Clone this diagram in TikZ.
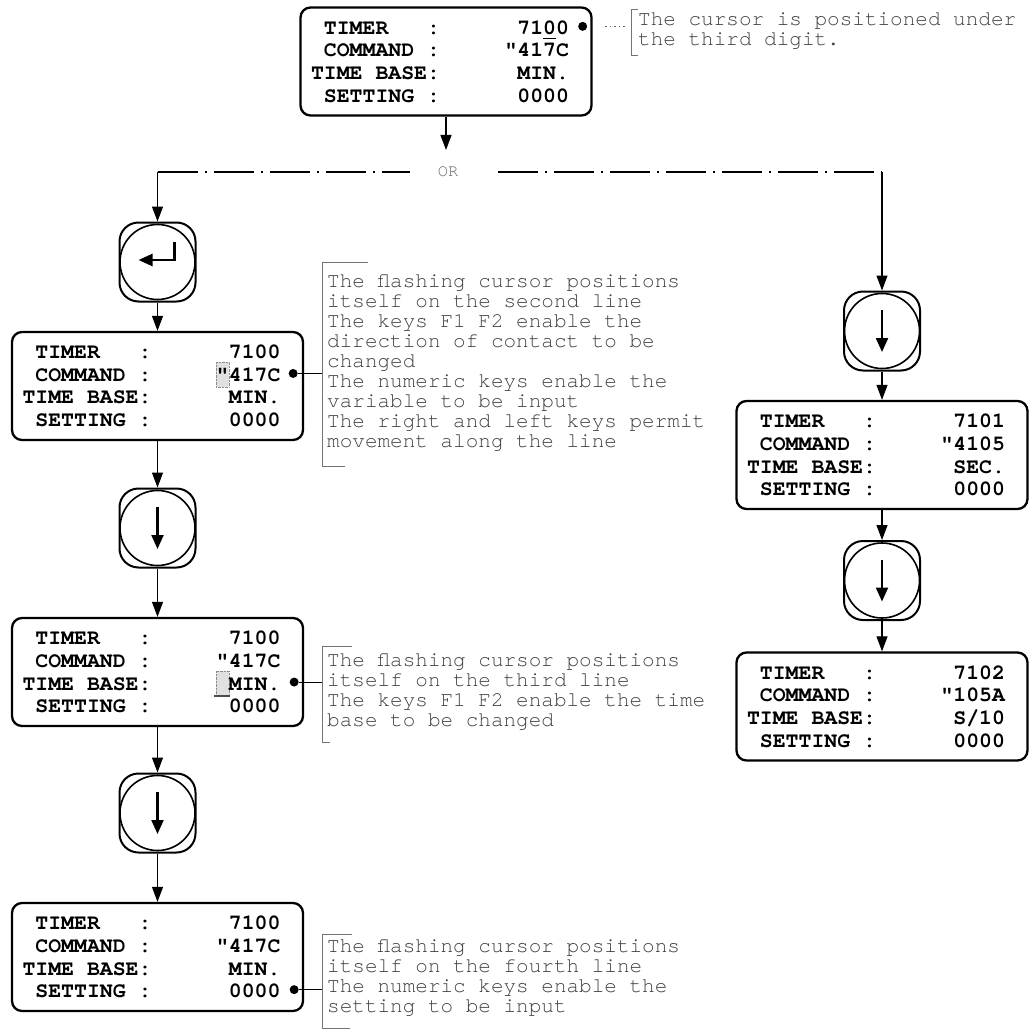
\documentclass[tikz,border=0pt]{standalone}
\usepackage{fontspec}
\setmonofont{texgyrecursor}[Extension=.otf, UprightFont=*-regular, BoldFont=*-bold, ItalicFont=*-italic, BoldItalicFont=*-bolditalic]
\usetikzlibrary{arrows.meta,calc}
\newcommand\ulz[1]{\makebox[0pt][l]{\rule[-5pt]{0.6em}{1.3pt}}#1}
\newcommand\lcdspaces{\def~{\hphantom{0}}}
\tikzset{
 lcd/.style={draw, line width=2.3pt, rounded corners=10pt, minimum width=291pt, minimum height=108pt, text width=270pt, inner xsep=10.5pt, inner ysep=0pt, align=left, font=\ttfamily\bfseries\fontsize{21.5}{22.6}\selectfont\lcdspaces},
 keybox/.style={draw, line width=2pt, rounded corners=19pt, minimum width=76pt, minimum height=79pt, inner sep=0pt},
 keyring/.style={line width=1.6pt},
 keyglyph/.style={line width=2.2pt, -{Triangle[length=14pt,width=12pt]}},
 conn/.style={line width=1.1pt, -{Triangle[length=15pt,width=11pt]}},
 plain/.style={line width=1.1pt},
 cdot/.style={circle, fill, inner sep=0pt, minimum size=9pt},
 note/.style={anchor=west, align=left, inner sep=0pt, text=black!75, font=\ttfamily\fontsize{21}{20}\selectfont},
 brk/.style={line width=0.9pt, draw=black!55},
 orline/.style={line width=1.1pt, dash pattern=on 40pt off 7pt on 2pt off 7pt},
 lead/.style={line width=1.4pt, black!60, dash pattern=on 1.5pt off 3pt},
 cursorblk/.style={draw=black!45, densely dotted, fill=black!12},
}
\begin{document}
\begin{tikzpicture}[x=1pt,y=-1pt]
\path[use as bounding box, fill=white] (0,0) rectangle (1031,1035);

% flashing cursor marks
\draw[cursorblk] (216,362) rectangle (229,387);
\draw[cursorblk] (216,671) rectangle (229,695);
\draw[line width=1.5pt, black!70] (214,696) -- (230,696);

% LCD boxes
\node[lcd] (T) at (446,61.5) {~TIMER~~~:~~~~~~71\ulz{0}0\\~COMMAND~:~~~~~"417C\\TIME~BASE:~~~~~~MIN.\\~SETTING~:~~~~~~0000};
\node[lcd] (B2) at (157.5,386) {~TIMER~~~:~~~~~~7100\\~COMMAND~:~~~~~"417C\\TIME~BASE:~~~~~~MIN.\\~SETTING~:~~~~~~0000};
\node[lcd] (B3) at (157.5,672) {~TIMER~~~:~~~~~~7100\\~COMMAND~:~~~~~"417C\\TIME~BASE:~~~~~~MIN.\\~SETTING~:~~~~~~0000};
\node[lcd] (B4) at (157.5,957) {~TIMER~~~:~~~~~~7100\\~COMMAND~:~~~~~"417C\\TIME~BASE:~~~~~~MIN.\\~SETTING~:~~~~~~0000};
\node[lcd] (R1) at (882,455) {~TIMER~~~:~~~~~~7101\\~COMMAND~:~~~~~"4105\\TIME~BASE:~~~~~~SEC.\\~SETTING~:~~~~~~0000};
\node[lcd] (R2) at (882,706.5) {~TIMER~~~:~~~~~~7102\\~COMMAND~:~~~~~"105A\\TIME~BASE:~~~~~~S/10\\~SETTING~:~~~~~~0000};

% keys
\node[keybox] (K1) at (157.5,262) {};
\node[keybox] (K2) at (157.5,528) {};
\node[keybox] (K3) at (157.5,813) {};
\node[keybox] (KR1) at (882,331) {};
\node[keybox] (KR2) at (882,580.5) {};
\foreach \k in {K1,K2,K3,KR1,KR2}{\draw[keyring] (\k.center) circle[radius=37.5];}
\draw[keyglyph, line width=2.6pt] ($(K1.center)+(17,-20)$) -- ($(K1.center)+(17,-2)$) -- ($(K1.center)+(-19,-2)$);
\foreach \k in {K2,K3,KR1,KR2}{\draw[keyglyph] ($(\k.center)+(0,-21)$) -- ($(\k.center)+(0,21)$);}

% OR split
\coordinate (tT) at (446,150);
\coordinate (orL) at (157.5,172);
\coordinate (orR) at (882,172);
\node[font=\ttfamily\fontsize{17}{17}\selectfont, text=black!60, inner sep=0pt] (or) at (448,172) {OR};
\draw[conn] (T) -- (tT);
\draw[orline, shorten >=28pt] (orL) -- (or);
\draw[orline, shorten <=40pt] (or) -- (orR);
\draw[conn] (orL) -- (K1);
\draw[conn] (orR) -- (KR1);

% flow connectors
\draw[conn] (K1) -- (B2);
\draw[conn] (B2) -- (K2);
\draw[conn] (K2) -- (B3);
\draw[conn] (B3) -- (K3);
\draw[conn] (K3) -- (B4);
\draw[conn] (KR1) -- (R1);
\draw[conn] (R1) -- (KR2);
\draw[conn] (KR2) -- (R2);

% cursor dots
\node[cdot] (dT) at ($(T.north east)+(-10,20)$) {};
\node[cdot] (d2) at ($(B2.north east)+(-11,42.6)$) {};
\node[cdot] (d3) at ($(B3.north east)+(-10,65.2)$) {};
\node[cdot] (d4) at ($(B4.north east)+(-10,87.8)$) {};

% annotations
\coordinate (bx1) at (631,0);
\coordinate (bx) at (322,0);
\draw[brk] (638,9) -- (631,9) -- (631,55) -- (638,55);
\draw[brk] (368,262) -- (322,262) -- (322,466) -- (345,466);
\draw[brk] (352,646) -- (322,646) -- (322,742) -- (330,742);
\draw[brk] (352,934) -- (322,934) -- (322,1028) -- (350,1028);
\draw[lead, shorten <=18pt, shorten >=5pt] (dT) -- (dT -| bx1);
\draw[plain] (d2) -- (d2 -| bx);
\draw[plain] (d3) -- (d3 -| bx);
\draw[plain] (d4) -- (d4 -| bx);

\node[note] (a1) at (638,31) {The cursor is positioned under\\the third digit.};
\node[note] (a2) at (327,363) {The flashing cursor positions\\itself on the second line\\The keys F1 F2 enable the\\direction of contact to be\\changed\\The numeric keys enable the\\variable to be input\\The right and left keys permit\\movement along the line};
\node[note] (a3) at (327,692) {The flashing cursor positions\\itself on the third line\\The keys F1 F2 enable the time\\base to be changed};
\node[note] (a4) at (327,978) {The flashing cursor positions\\itself on the fourth line\\The numeric keys enable the\\setting to be input};
\end{tikzpicture}
\end{document}
